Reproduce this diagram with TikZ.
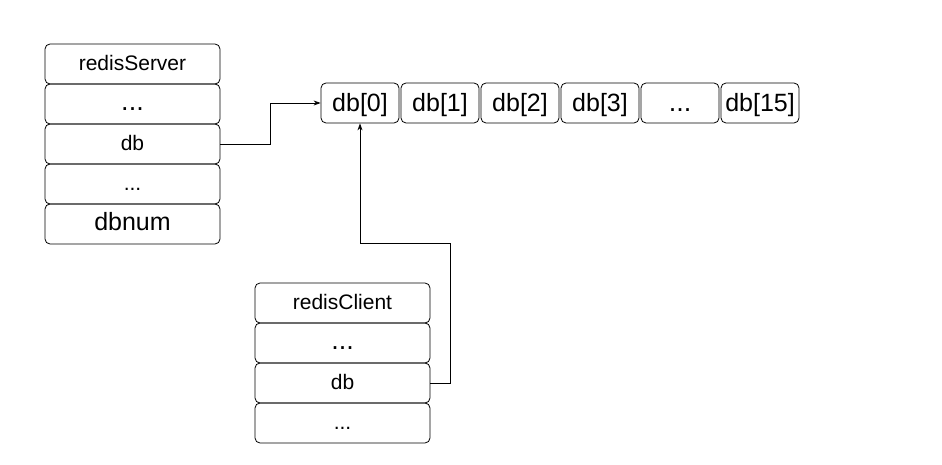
\documentclass[tikz,border=0pt]{standalone}
\usepackage{fontspec}
\setmainfont{Liberation Sans}
\usetikzlibrary{arrows.meta}

\tikzset{
	field/.style={draw, line width=0.8pt, rounded corners=5pt, minimum width=175pt, minimum height=40pt, inner sep=0pt, text height=15pt, text depth=2pt, font=\fontsize{21}{24}\selectfont},
	slot/.style={draw, line width=0.8pt, rounded corners=5pt, minimum width=78pt, minimum height=40pt, inner sep=0pt, text height=19pt, text depth=1pt, font=\fontsize{25}{28}\selectfont},
	link/.style={-{Stealth[length=7pt,width=5pt]}, line width=0.8pt}
}

\begin{document}
\begin{tikzpicture}[x=1pt,y=-1pt]
	\useasboundingbox (0,0) rectangle (942,465);

	% redisServer
	\node[field] (s0) at (132.5,64) {redisServer};
	\node[field, font=\fontsize{27}{30}\selectfont] (s1) at (132.5,104) {...};
	\node[field] (sdb) at (132.5,144) {db};
	\node[field] (s3) at (132.5,184) {...};
	\node[field, font=\fontsize{25}{28}\selectfont] (s4) at (132.5,224) {dbnum};

	% db array
	\node[slot] (d0) at (360,103) {db[0]};
	\node[slot] (d1) at (440,103) {db[1]};
	\node[slot] (d2) at (520,103) {db[2]};
	\node[slot] (d3) at (600,103) {db[3]};
	\node[slot, font=\fontsize{27}{30}\selectfont] (d4) at (680,103) {...};
	\node[slot] (d15) at (760,103) {db[15]};

	% redisClient
	\node[field] (c0) at (342.5,303) {redisClient};
	\node[field, font=\fontsize{27}{30}\selectfont] (c1) at (342.5,343) {...};
	\node[field] (cdb) at (342.5,383) {db};
	\node[field] (c3) at (342.5,423) {...};

	\draw[link] (sdb.east) -- ++(50,0) |- (d0.west);
	\coordinate (bend) at (450,243);
	\draw[link] (cdb.east) -| (bend) -| (d0.south);

\end{tikzpicture}
\end{document}
